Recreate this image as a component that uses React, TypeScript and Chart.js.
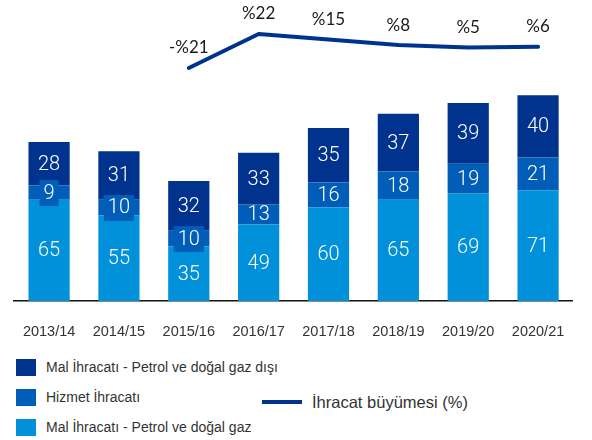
import React, { useEffect, useRef } from "react";
import { Chart, registerables } from "chart.js";

Chart.register(...registerables);

const categories = ["2013/14", "2014/15", "2015/16", "2016/17", "2017/18", "2018/19", "2019/20", "2020/21"];
const oilGasExports = [65, 55, 35, 49, 60, 65, 69, 71];
const serviceExports = [9, 10, 10, 13, 16, 18, 19, 21];
const nonOilExports = [28, 31, 32, 33, 35, 37, 39, 40];
const exportGrowth: (number | null)[] = [null, null, -21, 22, 15, 8, 5, 6];

const seriesNames = [
  "Mal İhracatı - Petrol ve doğal gaz",
  "Hizmet İhracatı",
  "Mal İhracatı - Petrol ve doğal gaz dışı",
];
const lineName = "İhracat büyümesi (%)";

const C_LIGHT = "#0091DA";
const C_MID = "#005EB8";
const C_DARK = "#00338D";

const fmtGrowth = (v: number) => (v < 0 ? "-%" + Math.abs(v) : "%" + v);

const labelPlugin = {
  id: "customLabels",
  afterDatasetsDraw(chart: any) {
    const ctx = chart.ctx;
    ctx.save();
    // bar labels
    for (let d = 0; d < 3; d++) {
      const meta = chart.getDatasetMeta(d);
      const ds = chart.data.datasets[d];
      meta.data.forEach((bar: any, j: number) => {
        const v = ds.data[j];
        const cy = (bar.y + bar.base) / 2;
        const text = String(v);
        ctx.font = '300 20px Roboto, "Liberation Sans", Arial, sans-serif';
        const w = ctx.measureText(text).width;
        const h = Math.abs(bar.base - bar.y);
        if (h < 18) {
          ctx.fillStyle = ds.backgroundColor;
          ctx.fillRect(bar.x - w / 2 - 4, cy - 12.5, w + 8, 26);
        }
        ctx.fillStyle = "#ffffff";
        ctx.textAlign = "center";
        ctx.textBaseline = "middle";
        ctx.fillText(text, bar.x, cy + 1);
      });
    }
    // line labels
    const lmeta = chart.getDatasetMeta(3);
    const lds = chart.data.datasets[3];
    lmeta.data.forEach((pt: any, j: number) => {
      const v = lds.data[j];
      if (v === null || v === undefined) return;
      ctx.font = '17px Lato, "Open Sans", sans-serif';
      ctx.fillStyle = "#1a1a1a";
      ctx.textAlign = "center";
      ctx.textBaseline = "middle";
      ctx.fillText(fmtGrowth(v), pt.x, pt.y - 20);
    });
    ctx.restore();
  },
};

export default function App() {
  const ref = useRef<HTMLCanvasElement | null>(null);
  useEffect(() => {
    if (!ref.current) return;
    const chart = new Chart(ref.current, {
      type: "bar",
      data: {
        labels: categories,
        datasets: [
          { type: "bar", label: seriesNames[0], data: oilGasExports, backgroundColor: C_LIGHT, yAxisID: "y", order: 2 },
          { type: "bar", label: seriesNames[1], data: serviceExports, backgroundColor: C_MID, yAxisID: "y", order: 2 },
          { type: "bar", label: seriesNames[2], data: nonOilExports, backgroundColor: C_DARK, yAxisID: "y", order: 2 },
          {
            type: "line",
            label: lineName,
            data: exportGrowth as any,
            borderColor: C_DARK,
            borderWidth: 4,
            pointRadius: 0,
            tension: 0,
            borderCapStyle: "round",
            borderJoinStyle: "round",
            yAxisID: "y2",
            order: 1,
          } as any,
        ],
      },
      options: {
        responsive: false,
        animation: false,
        maintainAspectRatio: false,
        layout: { padding: { left: 14, right: 19, top: 0, bottom: 0 } },
        plugins: { legend: { display: false }, tooltip: { enabled: false } },
        datasets: { bar: { categoryPercentage: 1, barPercentage: 0.59 } },
        scales: {
          x: {
            stacked: true,
            grid: { display: false, drawTicks: false },
            border: { display: true, color: "#111", width: 1.5 },
            ticks: {
              color: "#333",
              padding: 22,
              font: { family: '"Liberation Sans", Arial, sans-serif', size: 14.5 },
              maxRotation: 0,
            },
            afterFit: (scale: any) => {
              scale.height = 44;
            },
          },
          y: { stacked: true, display: false, min: 0, max: 193 },
          y2: { display: false, min: -315.7, max: 65 },
        },
      },
      plugins: [labelPlugin],
    });
    return () => chart.destroy();
  }, []);

  const legendText: React.CSSProperties = {
    position: "absolute",
    left: 46,
    fontFamily: '"Liberation Sans", Arial, sans-serif',
    fontSize: 14,
    color: "#333",
    lineHeight: "17px",
    whiteSpace: "nowrap",
  };
  const box = (top: number, color: string): React.CSSProperties => ({
    position: "absolute",
    left: 16,
    top,
    width: 20,
    height: 17,
    background: color,
  });

  return (
    <div style={{ position: "fixed", left: 0, top: 0, width: 592, height: 440, background: "#fff", overflow: "hidden" }}>
      <canvas ref={ref} width={592} height={345} style={{ position: "absolute", left: 0, top: 0, width: 592, height: 345 }} />
      <div style={box(359, C_DARK)} />
      <div style={{ ...legendText, top: 359 }}>{seriesNames[2]}</div>
      <div style={box(389, C_MID)} />
      <div style={{ ...legendText, top: 389 }}>{seriesNames[1]}</div>
      <div style={box(419, C_LIGHT)} />
      <div style={{ ...legendText, top: 419 }}>{seriesNames[0]}</div>
      <div style={{ position: "absolute", left: 262, top: 400, width: 40, height: 4, background: C_DARK }} />
      <div
        style={{
          position: "absolute",
          left: 312,
          top: 392,
          fontFamily: '"Liberation Sans", Arial, sans-serif',
          fontSize: 16.5,
          color: "#333",
          lineHeight: "20px",
          whiteSpace: "nowrap",
        }}
      >
        {lineName}
      </div>
    </div>
  );
}
